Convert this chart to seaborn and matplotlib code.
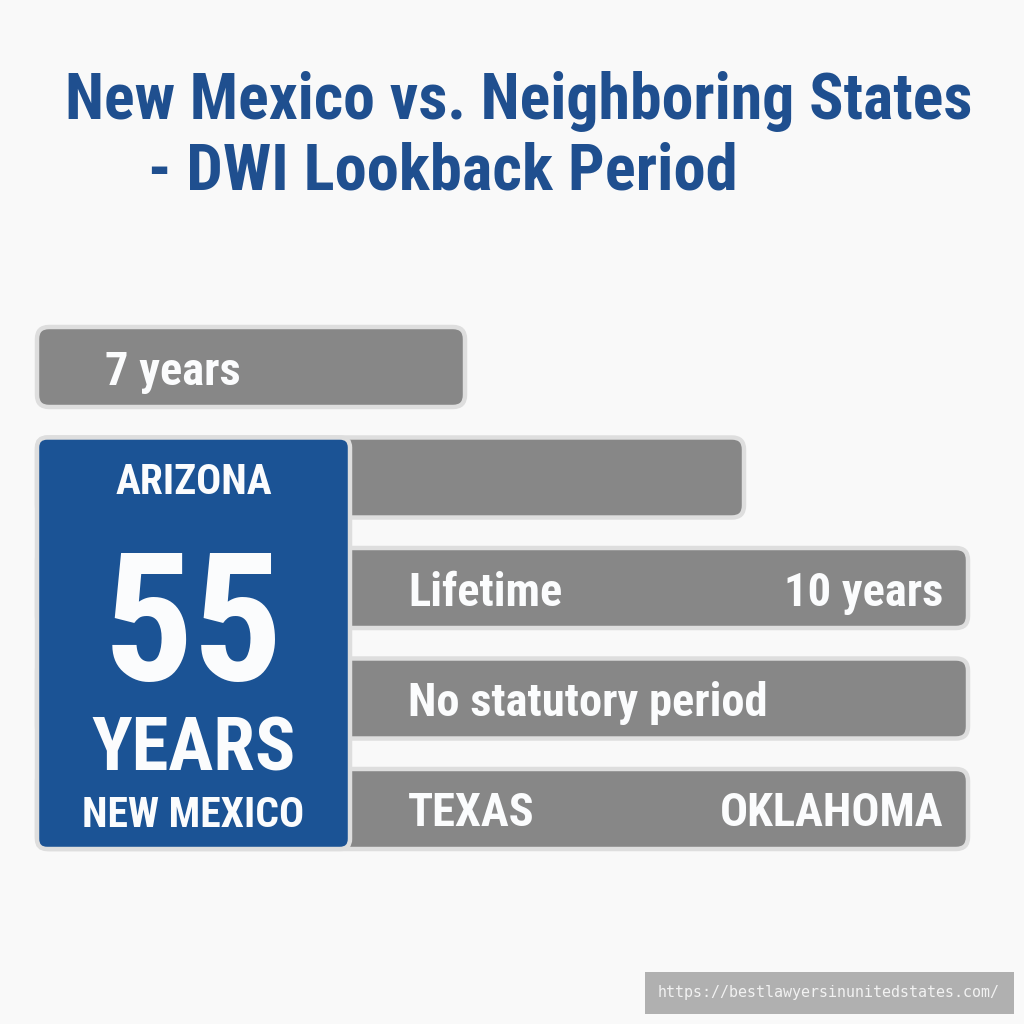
import matplotlib
matplotlib.use("Agg")
import matplotlib.pyplot as plt
import seaborn as sns
import pandas as pd
from matplotlib.patches import FancyBboxPatch
from matplotlib import font_manager as fm

# ---------------- data ----------------
rows = ["r1", "r2", "r3", "r4", "r5"]
bar_lengths = [428, 707, 931, 931, 931]
left_labels = ["7 years", "", "Lifetime", "No statutory period", "TEXAS"]
right_labels = ["", "", "10 years", "", "OKLAHOMA"]
highlight_top = "ARIZONA"
highlight_value = "55"
highlight_unit = "YEARS"
highlight_state = "NEW MEXICO"
highlight_length = 313
title_line1 = "New Mexico vs. Neighboring States"
title_line2 = "- DWI Lookback Period"
watermark = "https://bestlawyersinunitedstates.com/"

# ---------------- style ----------------
sns.set_theme(style="white")
BG = "#f9f9f9"
GRAY = "#878787"
EDGE = "#dedede"
BLUE = "#1b5395"
TITLE = "#1f4f8f"
WHITE = "#fbfcfd"


def wnum(w):
    if isinstance(w, (int, float)):
        return w
    return {"bold": 700, "heavy": 800, "black": 900, "semibold": 600,
            "demibold": 600, "extra bold": 800, "normal": 400,
            "regular": 400}.get(str(w).lower(), 400)

# find a condensed font that has a bold face
cond_family = None
pref = ["Roboto Condensed", "Liberation Sans Narrow", "Noto Sans Condensed",
        "Open Sans Condensed", "DejaVu Sans Condensed"]
bold_faces = {}
for f in fm.fontManager.ttflist:
    if ("Condensed" in f.name or "Narrow" in f.name) and wnum(f.weight) >= 600:
        bold_faces.setdefault(f.name, []).append(wnum(f.weight))
for p in pref:
    if p in bold_faces:
        cond_family = p
        break
if cond_family is None and bold_faces:
    cond_family = sorted(bold_faces)[0]
if cond_family is None:
    cond_family = "Roboto"
plt.rcParams["font.family"] = [cond_family, "DejaVu Sans"]
BW = "bold"

fig = plt.figure(figsize=(10.24, 10.24), dpi=100, facecolor=BG)
ax = fig.add_axes([0, 0, 1, 1])
ax.set_facecolor(BG)

df = pd.DataFrame({"row": rows, "length": bar_lengths})
sns.barplot(data=df, x="length", y="row", orient="h", color=GRAY,
            width=0.724, saturation=1, ax=ax, zorder=2)

# axis mapping: pixel = data + 37 (x), pixel = 367 + 110.5*row (y)
ax.set_xlim(-37, 987)
ax.set_ylim((1024 - 367) / 110.5, -367 / 110.5)
ax.axis("off")

aspect = 1 / 110.5


def roundify(p, color, z, r=12):
    x, y = p.get_x(), p.get_y()
    w, h = p.get_width(), p.get_height()
    p.remove()
    box = FancyBboxPatch((x, y), w, h,
                         boxstyle=f"round,pad=0,rounding_size={r}",
                         mutation_aspect=aspect, facecolor=color,
                         edgecolor=EDGE, linewidth=3.2, zorder=z)
    ax.add_patch(box)
    return box


for p in list(ax.patches):
    roundify(p, GRAY, 2)

# highlight block spanning rows 2-5
hb = ax.barh([2.5], [highlight_length], height=3 + 0.724, left=0,
             color=BLUE, zorder=3)
for p in list(hb.patches):
    roundify(p, BLUE, 3, r=10)

# bar texts
for i, (lt, rt) in enumerate(zip(left_labels, right_labels)):
    if lt:
        x0 = 68 if i == 0 else 371
        ax.text(x0, i, lt, color=WHITE, fontsize=33.5, fontweight=BW,
                ha="left", va="center_baseline", zorder=5)
    if rt:
        ax.text(906, i, rt, color=WHITE, fontsize=33.5, fontweight=BW,
                ha="right", va="center_baseline", zorder=5)

cx = highlight_length / 2
ax.text(cx, 1.0, highlight_top, color=WHITE, fontsize=30, fontweight=BW,
        ha="center", va="center_baseline", zorder=5)
ax.text(cx, 2.23, highlight_value, color=WHITE, fontsize=128, fontweight=BW,
        ha="center", va="center_baseline", zorder=5)
ax.text(cx, 3.40, highlight_unit, color=WHITE, fontsize=54, fontweight=BW,
        ha="center", va="center_baseline", zorder=5)
ax.text(cx, 4.02, highlight_state, color=WHITE, fontsize=30, fontweight=BW,
        ha="center", va="center_baseline", zorder=5)

# title
fig.text(65 / 1024, 1 - 95 / 1024, title_line1, color=TITLE, fontsize=46,
         fontweight=BW, ha="left", va="center_baseline")
fig.text(148 / 1024, 1 - 165 / 1024, title_line2, color=TITLE, fontsize=46.5,
         fontweight=BW, ha="left", va="center_baseline")

# watermark
fig.text(1000 / 1024, 1 - 993 / 1024, watermark, color="#f2f2f2", fontsize=10.8,
         family="DejaVu Sans Mono", ha="right", va="center",
         bbox=dict(boxstyle="square,pad=0.9", facecolor="#b0b0b0", edgecolor="none"))

fig.savefig("out.png", dpi=100, facecolor=BG)
